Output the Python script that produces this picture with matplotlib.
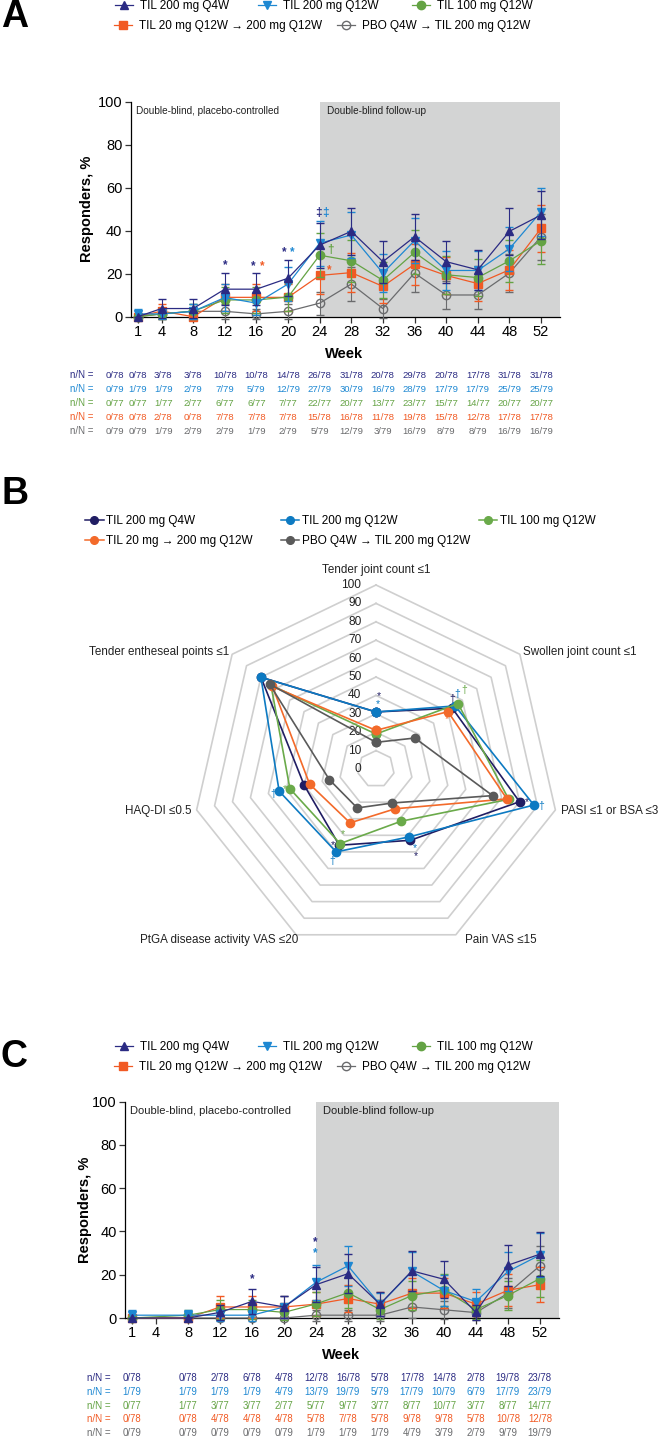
import matplotlib
matplotlib.use('Agg')
import matplotlib.pyplot as plt
import matplotlib.transforms as mtrans
from matplotlib.lines import Line2D
import numpy as np

plt.rcParams['font.family'] = ['Liberation Sans', 'DejaVu Sans']
plt.rcParams['axes.linewidth'] = 0.9

W, H = 661, 1437
fig = plt.figure(figsize=(W / 100, H / 100), dpi=100)


def fx(px):
    return px / W


def fy(py):
    return 1 - py / H


# ---------------- colours ----------------
NAVY = '#2B2B83'
BLUE = '#1E88D2'
GREEN = '#64A344'
ORANGE = '#F15A24'
GREY = '#6A6B6D'
SHADE = '#D3D4D4'

R_NAVY = '#201D63'
R_BLUE = '#0D7AC2'
R_GREEN = '#6AAA4A'
R_ORANGE = '#F36A2A'
R_GREY = '#5A5A5A'

# ---------------- Panel A data ----------------
weeks_A = [1, 4, 8, 12, 16, 20, 24, 28, 32, 36, 40, 44, 48, 52]
q4w_A = [0, 3.8, 3.8, 12.8, 12.8, 17.9, 33.3, 39.7, 25.6, 37.2, 25.6, 21.8, 39.7, 47.3]
q4w_A_err = [0, 4.2, 4.2, 7.4, 7.4, 8.5, 10.5, 10.9, 9.7, 10.7, 9.7, 9.2, 10.9, 11.1]
q12w_A = [1.3, 1.3, 2.5, 8.9, 6.3, 15.2, 34.2, 38.0, 20.3, 35.4, 21.5, 21.5, 31.6, 48.8]
q12w_A_err = [2.5, 2.5, 3.5, 6.3, 5.4, 8.0, 10.5, 10.8, 8.9, 10.6, 9.1, 9.1, 10.3, 11.1]
d100_A = [0, 1.3, 2.6, 7.8, 7.8, 9.1, 28.6, 26.0, 16.9, 29.9, 19.5, 18.2, 26.0, 35.3]
d100_A_err = [0, 2.5, 3.5, 6.0, 6.0, 6.4, 10.1, 9.8, 8.4, 10.2, 8.8, 8.6, 9.8, 10.7]
d20_A = [0, 2.6, 0, 9.0, 9.0, 9.0, 19.2, 20.5, 14.1, 24.4, 19.2, 15.4, 21.8, 41.1]
d20_A_err = [0, 3.5, 0, 6.3, 6.3, 6.3, 8.7, 9.0, 7.7, 9.5, 8.7, 8.0, 9.2, 10.9]
pbo_A = [0, 1.3, 2.5, 2.5, 1.3, 2.5, 6.3, 15.2, 3.8, 20.3, 10.1, 10.1, 20.3, 37.2]
pbo_A_err = [0, 2.5, 3.5, 3.5, 2.5, 3.5, 5.4, 7.9, 4.2, 8.9, 6.6, 6.6, 8.9, 10.7]

table_A_weeks = [-1.9, 1.0, 4.2, 8, 12, 16, 20, 24, 28, 32, 36, 40, 44, 48, 52]
table_A = [
    ['0/78', '0/78', '3/78', '3/78', '10/78', '10/78', '14/78', '26/78', '31/78', '20/78', '29/78', '20/78', '17/78', '31/78', '31/78'],
    ['0/79', '1/79', '1/79', '2/79', '7/79', '5/79', '12/79', '27/79', '30/79', '16/79', '28/79', '17/79', '17/79', '25/79', '25/79'],
    ['0/77', '0/77', '1/77', '2/77', '6/77', '6/77', '7/77', '22/77', '20/77', '13/77', '23/77', '15/77', '14/77', '20/77', '20/77'],
    ['0/78', '0/78', '2/78', '0/78', '7/78', '7/78', '7/78', '15/78', '16/78', '11/78', '19/78', '15/78', '12/78', '17/78', '17/78'],
    ['0/79', '0/79', '1/79', '2/79', '2/79', '1/79', '2/79', '5/79', '12/79', '3/79', '16/79', '8/79', '8/79', '16/79', '16/79'],
]

# ---------------- Panel C data ----------------
weeks_C = [1, 8, 12, 16, 20, 24, 28, 32, 36, 40, 44, 48, 52]
q4w_C = [0, 0, 2.6, 7.7, 5.1, 15.4, 20.5, 6.4, 21.8, 17.9, 2.6, 24.4, 29.5]
q4w_C_err = [0, 0, 3.5, 5.9, 4.9, 8.0, 9.0, 5.4, 9.2, 8.5, 3.5, 9.5, 10.1]
q12w_C = [1.3, 1.3, 1.3, 1.3, 5.1, 16.5, 24.1, 6.3, 21.5, 12.7, 7.6, 21.5, 29.1]
q12w_C_err = [2.5, 2.5, 2.5, 2.5, 4.9, 8.2, 9.4, 5.4, 9.1, 7.3, 5.8, 9.1, 10.0]
d100_C = [0, 1.3, 3.9, 3.9, 2.6, 6.5, 11.7, 3.9, 10.4, 13.0, 3.9, 10.4, 18.2]
d100_C_err = [0, 2.5, 4.3, 4.3, 3.5, 5.5, 7.2, 4.3, 6.8, 7.5, 4.3, 6.8, 8.6]
d20_C = [0, 0, 5.1, 5.1, 5.1, 6.4, 9.0, 6.4, 11.5, 11.5, 6.4, 12.8, 15.4]
d20_C_err = [0, 0, 4.9, 4.9, 4.9, 5.4, 6.3, 5.4, 7.1, 7.1, 5.4, 7.4, 8.0]
pbo_C = [0, 0, 0, 0, 0, 1.3, 1.3, 1.3, 5.1, 3.8, 2.5, 11.4, 24.1]
pbo_C_err = [0, 0, 0, 0, 0, 2.5, 2.5, 2.5, 4.9, 4.2, 3.5, 7.0, 9.4]

table_C_weeks = weeks_C
table_C = [
    ['0/78', '0/78', '2/78', '6/78', '4/78', '12/78', '16/78', '5/78', '17/78', '14/78', '2/78', '19/78', '23/78'],
    ['1/79', '1/79', '1/79', '1/79', '4/79', '13/79', '19/79', '5/79', '17/79', '10/79', '6/79', '17/79', '23/79'],
    ['0/77', '1/77', '3/77', '3/77', '2/77', '5/77', '9/77', '3/77', '8/77', '10/77', '3/77', '8/77', '14/77'],
    ['0/78', '0/78', '4/78', '4/78', '4/78', '5/78', '7/78', '5/78', '9/78', '9/78', '5/78', '10/78', '12/78'],
    ['0/79', '0/79', '0/79', '0/79', '0/79', '1/79', '1/79', '1/79', '4/79', '3/79', '2/79', '9/79', '19/79'],
]

# ---------------- Panel B data ----------------
radar_axes = ['Tender joint count \u22641', 'Swollen joint count \u22641', 'PASI \u22641 or BSA \u22643',
              'Pain VAS \u226415', 'PtGA disease activity VAS \u226420', 'HAQ-DI \u22640.5',
              'Tender entheseal points \u22641']
radar_q4w = [31, 53, 80, 43, 46, 40, 80]
radar_q12w = [31, 55, 88, 41, 50, 54, 80]
radar_d100 = [19, 57, 74, 31.5, 45, 48, 73]
radar_d20 = [21, 50, 73, 24, 32.5, 37, 72]
radar_pbo = [14.5, 27, 65, 20.5, 23.5, 26, 74]
radar_ticks = [0, 10, 20, 30, 40, 50, 60, 70, 80, 90, 100]

labels_line = ['TIL 200 mg Q4W', 'TIL 200 mg Q12W', 'TIL 100 mg Q12W',
               'TIL 20 mg Q12W \u2192 200 mg Q12W', 'PBO Q4W \u2192 TIL 200 mg Q12W']
labels_radar = ['TIL 200 mg Q4W', 'TIL 200 mg Q12W', 'TIL 100 mg Q12W',
                'TIL 20 mg \u2192 200 mg Q12W', 'PBO Q4W \u2192 TIL 200 mg Q12W']

line_styles = [
    dict(color=NAVY, marker='^', mfc=NAVY),
    dict(color=BLUE, marker='v', mfc=BLUE),
    dict(color=GREEN, marker='o', mfc=GREEN),
    dict(color=ORANGE, marker='s', mfc=ORANGE),
    dict(color=GREY, marker='o', mfc='none'),
]
row_colors = [NAVY, BLUE, GREEN, ORANGE, GREY]


def add_entry(handle, label, xl, y, fs, hl, htp):
    leg = fig.legend([handle], [label], loc='center left', bbox_to_anchor=(fx(xl), fy(y)),
                     frameon=False, borderpad=0, borderaxespad=0, handlelength=hl,
                     handletextpad=htp, fontsize=fs, markerscale=1.0)
    return leg


def line_panel(rect, weeks, data, errs, shade_txt_size, table_weeks, table, nN_x,
               table_rows_y, table_fs, week_y, ylab_x, stars, legend_y, letter, letter_y):
    ax = fig.add_axes(rect)
    ax.axvspan(24, 54.4, color=SHADE, zorder=0, lw=0)
    order = [4, 3, 2, 1, 0]
    for i in order:
        st = line_styles[i]
        cont = ax.errorbar(weeks, data[i], yerr=errs[i], color=st['color'], marker=st['marker'],
                           mfc=st['mfc'], mec=st['color'], ms=6 if st['marker'] != 's' else 5.2,
                           mew=1.0, lw=0.9, elinewidth=0.8, capsize=3.2, capthick=0.8,
                           zorder=3 + (4 - i))
        for art in cont.get_children():
            art.set_clip_on(False)
    ax.set_xlim(0.1, 54.4)
    ax.set_ylim(0, 100)
    ax.spines['top'].set_visible(False)
    ax.spines['right'].set_visible(False)
    ax.set_xticks(weeks_A)
    ax.set_yticks([0, 20, 40, 60, 80, 100])
    ax.tick_params(axis='both', labelsize=10.5, length=4, width=0.9, color='#333333', pad=2)
    ax.text(0.012, 0.955, 'Double-blind, placebo-controlled', transform=ax.transAxes,
            fontsize=shade_txt_size, va='center', ha='left', color='#222222')
    ax.text(24.9, 95.5, 'Double-blind follow-up', fontsize=shade_txt_size, va='center',
            ha='left', color='#222222')
    for (xw, yv, s, c) in stars:
        ax.text(xw, yv, s, color=c, fontsize=8.5, ha='center', va='center', fontweight='bold')
    fig.text(fx(ylab_x), (rect[1] + rect[1] + rect[3]) / 2, 'Responders, %', rotation=90,
             ha='center', va='center', fontsize=10.5, fontweight='bold')
    fig.text(rect[0] + rect[2] / 2 * 0.995, fy(week_y), 'Week', ha='center', va='center',
             fontsize=10.5, fontweight='bold')
    tr = mtrans.blended_transform_factory(ax.transData, fig.transFigure)
    for r, row in enumerate(table):
        fig.text(fx(nN_x), fy(table_rows_y[r]), 'n/N =', color=row_colors[r], fontsize=table_fs + 0.2,
                 ha='left', va='center')
        for xw, s in zip(table_weeks, row):
            ax.text(xw, fy(table_rows_y[r]), s, transform=tr, color=row_colors[r],
                    fontsize=table_fs, ha='center', va='center', clip_on=False)
    pos = [(115, legend_y[0]), (258, legend_y[0]), (412, legend_y[0]),
           (114, legend_y[1]), (337, legend_y[1])]
    for i in range(5):
        st = line_styles[i]
        h = Line2D([], [], color=st['color'], marker=st['marker'], mfc=st['mfc'], mec=st['color'],
                   ms=6 if st['marker'] != 's' else 5.2, lw=0.9)
        add_entry(h, labels_line[i], pos[i][0], pos[i][1], 8.5, 1.5, 0.6)
    fig.text(fx(1), fy(letter_y), letter, fontsize=27, fontweight='bold', ha='left', va='center')
    return ax


# ---------------- Panel A ----------------
rect_A = [fx(130.7), fy(316.7), fx(560) - fx(130.7), fy(101.7) - fy(316.7)]
stars_A = [(12.1, 24.0, '*', NAVY), (15.6, 23.3, '*', NAVY), (16.7, 23.3, '*', ORANGE),
           (19.5, 29.8, '*', NAVY), (20.5, 29.8, '*', BLUE),
           (23.8, 48.4, '\u2021', NAVY), (24.7, 48.4, '\u2021', BLUE),
           (25.4, 31.0, '\u2020', GREEN), (25.2, 21.7, '*', ORANGE)]
line_panel(rect_A, weeks_A, [q4w_A, q12w_A, d100_A, d20_A, pbo_A],
           [q4w_A_err, q12w_A_err, d100_A_err, d20_A_err, pbo_A_err], 7.2,
           table_A_weeks, table_A, 70, [375, 389, 403, 417, 431], 6.8, 354, 87, stars_A,
           (6.5, 26.5), 'A', 17)

# ---------------- Panel C ----------------
rect_C = [fx(125), fy(1318), fx(559) - fx(125), fy(1101.7) - fy(1318)]
stars_C = [(16.0, 18.0, '*', NAVY), (23.9, 35.2, '*', NAVY), (23.9, 29.8, '*', BLUE)]
line_panel(rect_C, weeks_C, [q4w_C, q12w_C, d100_C, d20_C, pbo_C],
           [q4w_C_err, q12w_C_err, d100_C_err, d20_C_err, pbo_C_err], 8.0,
           table_C_weeks, table_C, 87, [1378, 1392, 1406, 1419.5, 1433], 6.9, 1355, 85, stars_C,
           (1047, 1067), 'C', 1057)

# ---------------- Panel B (radar) ----------------
cx, cy, R = 376, 769, 184
axB = fig.add_axes([fx(cx - R), fy(cy + R), (2 * R) / W, (2 * R) / H], projection='polar')
axB.set_theta_zero_location('N')
axB.set_theta_direction(-1)
axB.set_ylim(0, 100)
axB.set_axis_off()
n = len(radar_axes)
ang = [2 * np.pi * i / n for i in range(n)]
ang_c = ang + [ang[0]]
for v in radar_ticks[1:]:
    axB.plot(ang_c, [v] * (n + 1), color='#CFCFCF', lw=1.2, zorder=0, clip_on=False)
for v in radar_ticks:
    axB.annotate(str(v), xy=(0, v), xytext=(-10.5, 0), textcoords='offset points',
                 ha='right', va='center', fontsize=8.6, color='#222222', annotation_clip=False)
radar_data = [radar_q4w, radar_q12w, radar_d100, radar_d20, radar_pbo]
radar_cols = [R_NAVY, R_BLUE, R_GREEN, R_ORANGE, R_GREY]
for i in [4, 3, 2, 0, 1]:
    vals = radar_data[i] + [radar_data[i][0]]
    axB.plot(ang_c, vals, color=radar_cols[i], lw=1.2, marker='o', ms=6, zorder=3 + i,
             clip_on=False)
# axis labels: (radius, ha, x offset pt, y offset pt)
lab_pos = [(108, 'center', 0, 0), (102, 'left', 0, 0), (103, 'left', 0, 0),
           (100, 'left', 6.5, -4), (100, 'right', 1.5, -4),
           (103, 'right', 0, 0), (102, 'right', 0, 0)]
for a, lab, (rr, ha, ox, oy) in zip(ang, radar_axes, lab_pos):
    axB.annotate(lab, xy=(a, rr), xytext=(ox, oy), textcoords='offset points',
                 ha=ha, va='center', fontsize=8.4, color='#222222', annotation_clip=False)
radar_marks = [(0, 0, 3, 16, '*'), (0, 1, 2, 8, '*'),
               (1, 0, 0, 9, '\u2020'), (1, 1, 2, 12, '\u2020'), (1, 2, 6, 14, '\u2020'),
               (1, 3, -1, -7, '*'),
               (2, 0, 7, 0, '*'), (2, 1, 7, -1, '\u2020'),
               (3, 1, 6, -11, '*'), (3, 0, 6, -16, '*'),
               (4, 2, 3, 10, '*'), (4, 1, -4, -9, '\u2020'), (4, 0, -6, 0, '*'),
               (5, 1, -6, -3, '\u2020'), (5, 2, -5, 0, '*')]
for ai, si, dx, dy, s in radar_marks:
    axB.annotate(s, xy=(ang[ai], radar_data[si][ai]), xytext=(dx * 0.72, dy * 0.72),
                 textcoords='offset points', ha='center', va='center', fontsize=7.5,
                 color=radar_cols[si], annotation_clip=False)
posB = [(85, 521), (280.5, 521), (478.5, 521), (85, 541), (280.5, 541)]
for i in range(5):
    h = Line2D([], [], color=radar_cols[i], marker='o', ms=5.5, lw=1.1)
    add_entry(h, labels_radar[i], posB[i][0], posB[i][1], 8.5, 1.6, 0.2)
fig.text(fx(1), fy(494), 'B', fontsize=27, fontweight='bold', ha='left', va='center')

fig.savefig('out.png', dpi=100)
